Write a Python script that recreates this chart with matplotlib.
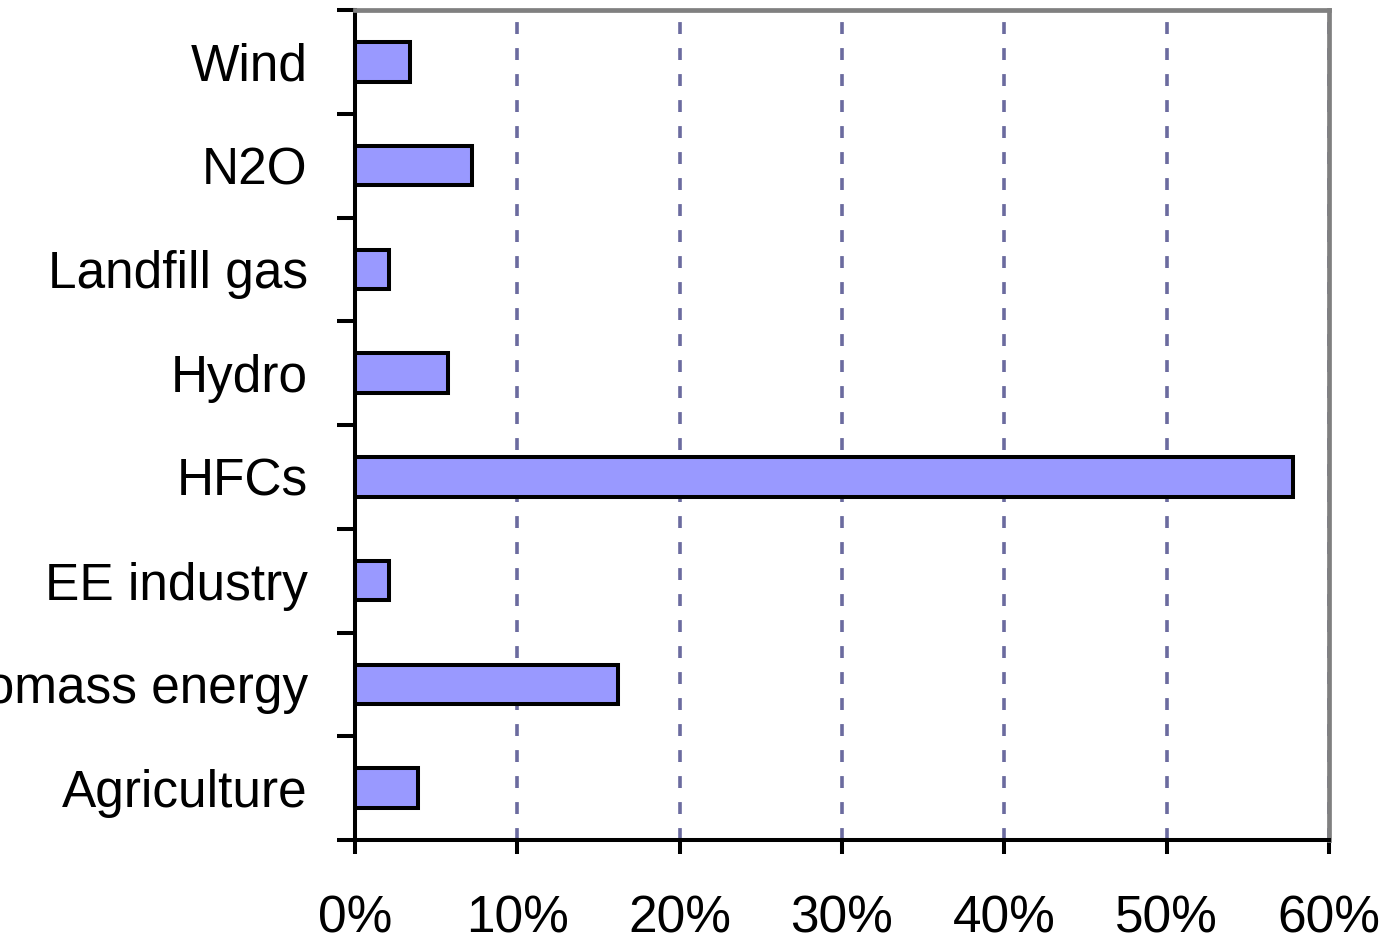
import matplotlib
matplotlib.use("Agg")
import matplotlib.pyplot as plt
from matplotlib.ticker import FixedLocator, PercentFormatter

# Sector shares (percent), top to bottom as shown
categories = ["Wind", "N2O", "Landfill gas", "Hydro", "HFCs",
              "EE industry", "Biomass energy", "Agriculture"]
shares = [3.4, 7.2, 2.1, 5.7, 57.8, 2.1, 16.2, 3.9]
x_ticks = [0, 10, 20, 30, 40, 50, 60]

plt.rcParams['font.family'] = ['Liberation Sans', 'DejaVu Sans']

fig = plt.figure(figsize=(13.87, 9.44), dpi=100)
ax = fig.add_axes([355 / 1387, 104 / 944, 974 / 1387, 830 / 944])

n = len(categories)
ypos = list(range(n))[::-1]
ax.barh(ypos, shares, height=0.38, color="#9999ff", edgecolor="black",
        linewidth=2.9, zorder=3)

ax.set_xlim(0, 60)
ax.set_ylim(-0.5, n - 0.5)
ax.set_xticks(x_ticks)
ax.xaxis.set_major_formatter(PercentFormatter(decimals=0))

# category labels centred, ticks on boundaries
ax.set_yticks(ypos)
ax.set_yticklabels(categories)
ax.yaxis.set_minor_locator(FixedLocator([i - 0.5 for i in range(n + 1)]))
ax.tick_params(axis="y", which="major", length=0, pad=34, labelsize=37)
ax.tick_params(axis="y", which="minor", length=13, width=2.9, direction="out")
ax.tick_params(axis="x", which="major", length=10, width=2.9, direction="out",
               pad=29, labelsize=37)

ax.grid(axis="x", color="#6b6b9f", linewidth=2.6, linestyle=(0, (3.3, 3.9)), zorder=1)

for side in ("left", "bottom"):
    ax.spines[side].set_linewidth(2.9)
    ax.spines[side].set_color("black")
for side in ("top", "right"):
    ax.spines[side].set_linewidth(3.4)
    ax.spines[side].set_color("#808080")

fig.savefig("out.png", dpi=100)
